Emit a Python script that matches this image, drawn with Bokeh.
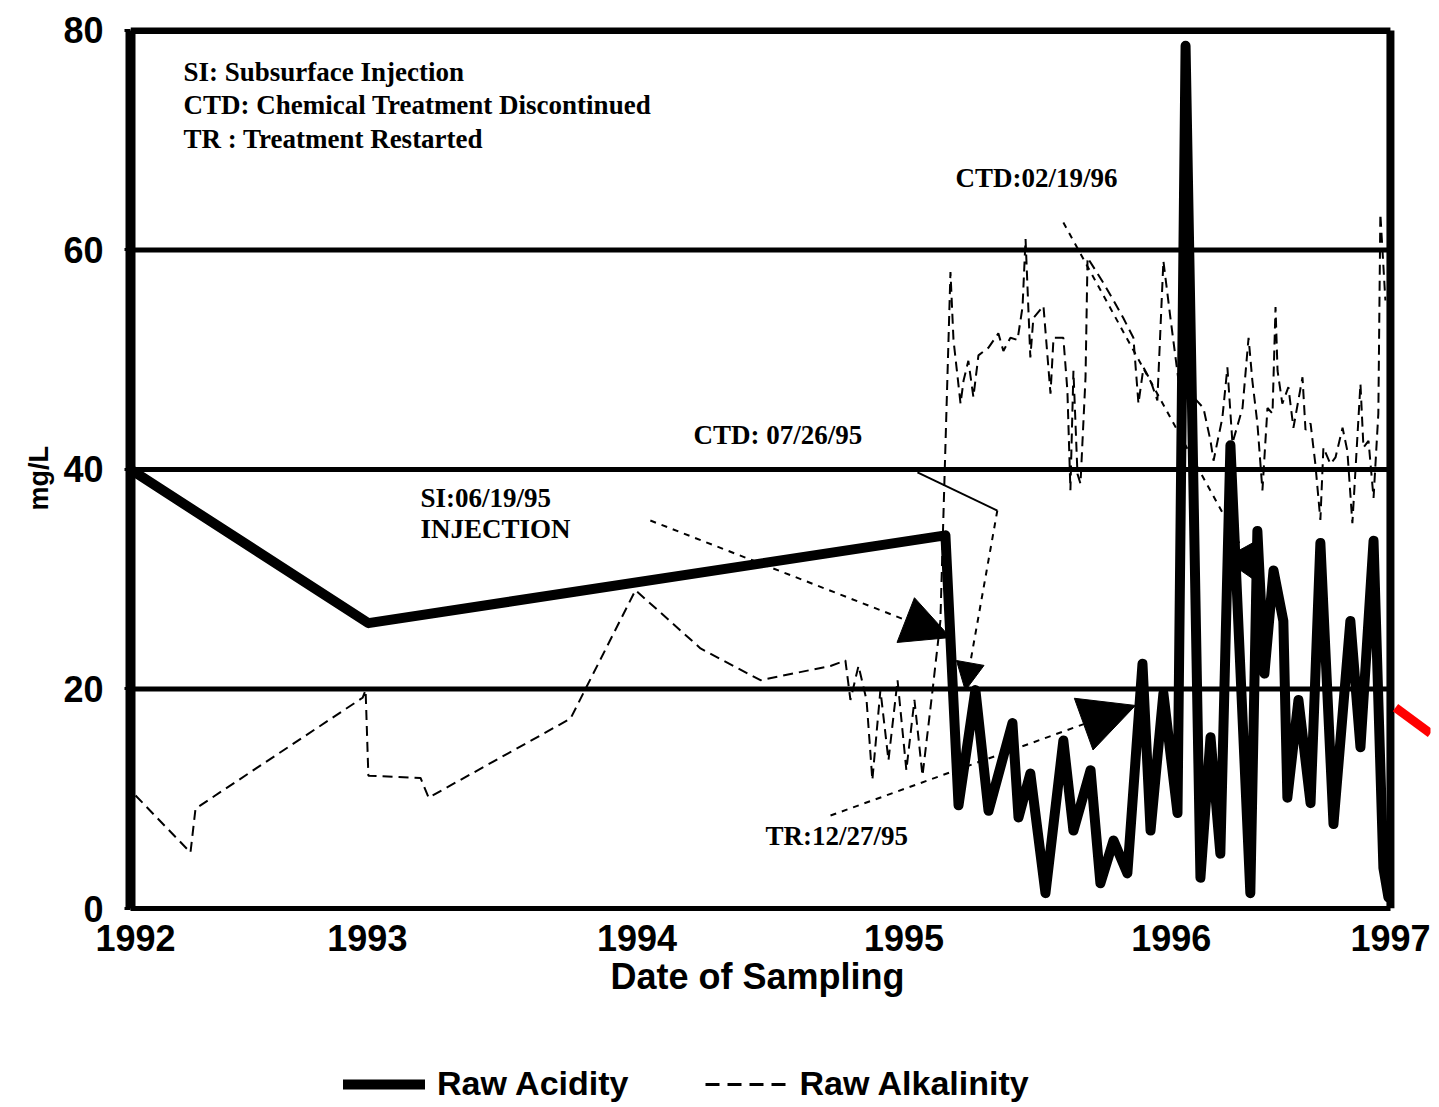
from bokeh.plotting import figure
from bokeh.layouts import column
from bokeh.models import (Range1d, FixedTicker, Arrow, NormalHead, Legend, LegendItem,
                          ColumnDataSource, Title)
from bokeh.core.properties import value
from bokeh.embed import file_html
from bokeh.resources import INLINE

# ---------------- data ----------------
acid_x = [1992.000, 1992.944, 1995.234, 1995.286, 1995.353, 1995.405, 1995.500, 1995.524,
          1995.571, 1995.631, 1995.702, 1995.742, 1995.810, 1995.849, 1995.901, 1995.956,
          1996.016, 1996.048, 1996.099, 1996.155, 1996.187, 1996.246, 1996.286, 1996.325,
          1996.365, 1996.444, 1996.472, 1996.500, 1996.536, 1996.575, 1996.591, 1996.635,
          1996.683, 1996.722, 1996.774, 1996.841, 1996.881, 1996.933, 1996.972, 1996.992]
acid_y = [40.0, 26.0, 34.0, 9.4, 19.9, 8.9, 16.9, 8.3,
          12.3, 1.4, 15.3, 7.1, 12.6, 2.3, 6.2, 3.2,
          22.3, 7.1, 19.6, 8.7, 78.6, 2.8, 15.6, 5.0,
          42.2, 1.4, 34.4, 21.4, 30.8, 26.2, 10.1, 19.0,
          9.6, 33.3, 7.7, 26.2, 14.7, 33.5, 3.7, 1.0]

alk_x = [1992.020, 1992.238, 1992.258, 1992.921, 1992.933, 1992.944, 1993.151, 1993.183,
         1993.746, 1994.004, 1994.262, 1994.500, 1994.778, 1994.837, 1994.857, 1994.889,
         1994.921, 1994.944, 1994.976, 1995.008, 1995.044, 1995.079, 1995.111, 1995.143,
         1995.183, 1995.214, 1995.254, 1995.266, 1995.294, 1995.306, 1995.325, 1995.345,
         1995.365, 1995.405, 1995.444, 1995.464, 1995.492, 1995.520, 1995.540, 1995.552,
         1995.571, 1995.583, 1995.623, 1995.651, 1995.663, 1995.702, 1995.718, 1995.730,
         1995.742, 1995.758, 1995.770, 1995.790, 1995.798, 1995.861, 1995.901, 1995.940,
         1995.980, 1996.000, 1996.020, 1996.048, 1996.075, 1996.099, 1996.127, 1996.159,
         1996.258, 1996.286, 1996.298, 1996.333, 1996.353, 1996.373, 1996.413, 1996.437,
         1996.452, 1996.472, 1996.492, 1996.512, 1996.532, 1996.544, 1996.552, 1996.571,
         1996.595, 1996.615, 1996.651, 1996.663, 1996.683, 1996.702, 1996.722, 1996.734,
         1996.762, 1996.782, 1996.810, 1996.829, 1996.849, 1996.881, 1996.893, 1996.913,
         1996.933, 1996.952, 1996.960, 1996.980]
alk_y = [10.3, 5.1, 9.1, 19.2, 19.9, 12.1, 11.9, 10.1,
         17.3, 29.0, 23.7, 20.8, 22.1, 22.6, 19.0, 22.1,
         19.0, 11.7, 19.9, 13.5, 20.8, 12.6, 19.0, 12.1,
         19.9, 26.2, 58.0, 51.8, 46.0, 48.1, 49.9, 46.6,
         50.4, 51.1, 52.4, 50.8, 52.0, 51.8, 54.8, 61.0,
         50.2, 53.8, 54.9, 46.9, 52.0, 52.0, 47.2, 38.1,
         49.0, 39.6, 38.7, 48.4, 59.3, 57.0, 55.4, 53.8,
         52.0, 46.0, 49.3, 48.1, 46.3, 59.0, 53.8, 48.1,
         45.6, 42.6, 40.8, 44.7, 49.3, 42.4, 45.6, 52.0,
         48.1, 44.2, 38.1, 45.6, 45.1, 54.8, 49.0, 46.0,
         47.5, 43.8, 48.4, 43.6, 44.2, 40.5, 35.4, 42.0,
         40.5, 41.1, 43.8, 41.7, 35.1, 47.8, 42.0, 42.6,
         37.4, 45.1, 63.3, 55.4]

y_ticks = [0, 20, 40, 60, 80]
x_start, x_end = 1992, 1997
year_labels = ["1992", "1993", "1994", "1995", "1996", "1997"]
year_label_pos = [1992.02, 1992.94, 1994.01, 1995.07, 1996.13, 1997.0]
x_title = "Date of Sampling"
y_title = "mg/L"
series_names = ["Raw Acidity", "Raw Alkalinity"]

notes_text = ["SI: Subsurface Injection",
              "CTD: Chemical Treatment Discontinued",
              "TR  : Treatment Restarted",
              "CTD:02/19/96", "CTD: 07/26/95", "SI:06/19/95", "INJECTION", "TR:12/27/95"]
notes_x = [1992.21, 1992.21, 1992.21, 1995.274, 1994.234, 1993.151, 1993.151, 1994.520]
notes_y = [76.2, 73.2, 70.1, 66.6, 43.1, 37.4, 34.6, 6.6]

si_arrow = (1994.063, 35.35, 1995.254, 24.69)
ctd1_link = (1995.123, 39.73, 1995.440, 36.26)
ctd1_arrow = (1995.440, 36.26, 1995.313, 19.86)
tr_arrow = (1994.778, 8.47, 1995.988, 18.50)
ctd2_arrow = (1995.702, 62.51, 1996.492, 29.43)
red_mark = (1997.020, 18.31, 1997.159, 15.95)

# ---------------- main figure ----------------
SANS = "Liberation Sans"
SERIF = "Liberation Serif"

p = figure(frame_width=1300, frame_height=881,
           min_border_left=130, min_border_right=1, min_border_top=27, min_border_bottom=105,
           x_range=Range1d(1992, 1997.159), y_range=Range1d(0, 80.27),
           output_backend="svg", toolbar_location=None, background_fill_color="white",
           border_fill_color="white")

p.outline_line_color = None
p.xgrid.visible = False
p.ygrid.visible = False

# grid lines and frame borders (restricted to 1992..1997, 0..80)
grid_vals = y_ticks[1:-1]
p.segment(x0=[x_start] * len(grid_vals), x1=[x_end] * len(grid_vals),
          y0=grid_vals, y1=grid_vals, line_color="black", line_width=5)
p.segment(x0=[x_start], x1=[x_end], y0=[y_ticks[-1]], y1=[y_ticks[-1]],
          line_color="black", line_width=7)
p.segment(x0=[x_end], x1=[x_end], y0=[y_ticks[0]], y1=[y_ticks[-1]],
          line_color="black", line_width=8)

# y axis
p.yaxis.ticker = FixedTicker(ticks=y_ticks)
p.yaxis.bounds = (y_ticks[0], y_ticks[-1])
p.yaxis.axis_line_width = 10
p.yaxis.major_tick_line_width = 3
p.yaxis.major_tick_out = 6
p.yaxis.major_tick_in = 0
p.yaxis.minor_tick_line_color = None
p.yaxis.major_label_standoff = 21
p.yaxis.major_label_text_font = SANS
p.yaxis.major_label_text_font_style = "bold"
p.yaxis.major_label_text_font_size = "36px"
p.yaxis.major_label_text_color = "black"

# x axis
p.xaxis.ticker = FixedTicker(ticks=year_label_pos)
p.xaxis.bounds = (x_start, x_end)
p.xaxis.major_label_overrides = {pos: lab for pos, lab in zip(year_label_pos, year_labels)}
p.xaxis.axis_line_width = 5
p.xaxis.major_tick_line_color = None
p.xaxis.minor_tick_line_color = None
p.xaxis.major_label_standoff = 10
p.xaxis.major_label_text_font = SANS
p.xaxis.major_label_text_font_style = "bold"
p.xaxis.major_label_text_font_size = "36px"
p.xaxis.major_label_text_color = "black"

# axis titles as side titles (left-aligned with an offset, like the original)
p.add_layout(Title(text=x_title, align="left", offset=480, standoff=0,
                   text_font=SANS, text_font_style="bold", text_font_size="36px",
                   text_color="black"), "below")
p.add_layout(Title(text=y_title, align="left", offset=398, standoff=14,
                   text_font=SANS, text_font_style="bold", text_font_size="27px",
                   text_color="black"), "left")

# series
alk_style = dict(line_color="black", line_width=2, line_dash="10 6")
acid_style = dict(line_color="black", line_width=10, line_join="round", line_cap="round")
p.line(alk_x, alk_y, **alk_style)
p.line(acid_x, acid_y, **acid_style)

# annotation texts
src = ColumnDataSource(dict(x=notes_x, y=notes_y, t=notes_text))
p.text(x="x", y="y", text="t", source=src, text_font=value(SERIF), text_font_style="bold",
       text_font_size="27px", text_color="black", text_baseline="middle", text_align="left")

# arrows
def add_arrow(coords, size, dashed=True, width=2, color="black"):
    x0, y0, x1, y1 = coords
    head = NormalHead(size=size, fill_color=color, line_color=color) if size else None
    p.add_layout(Arrow(end=head, x_start=x0, y_start=y0, x_end=x1, y_end=y1,
                       line_color=color, line_width=width,
                       line_dash="dashed" if dashed else "solid"))

add_arrow(si_arrow, 48)
add_arrow(ctd1_link, 0, dashed=False)
add_arrow(ctd1_arrow, 28)
add_arrow(tr_arrow, 55)
add_arrow(ctd2_arrow, 42)
add_arrow(red_mark, 0, dashed=False, width=9, color="red")

# ---------------- strip below: legend ----------------
q = figure(frame_width=1300, height=90, x_range=p.x_range, y_range=Range1d(0, 1),
           min_border_left=130, min_border_right=1, min_border_top=0, min_border_bottom=0,
           x_axis_location=None, y_axis_location=None,
           output_backend="svg", toolbar_location=None, background_fill_color="white",
           border_fill_color="white")
q.outline_line_color = None
q.xgrid.visible = False
q.ygrid.visible = False

# key renderers (their points lie outside the strip's visible range)
acid_key = q.line([x_start, x_end], [-1, -1], **acid_style)
alk_key = q.line([x_start, x_end], [-1, -1], line_color="black", line_width=3,
                 line_dash="14 8")
legend = Legend(items=[LegendItem(label=series_names[0], renderers=[acid_key]),
                       LegendItem(label=series_names[1], renderers=[alk_key])],
                orientation="horizontal", location=(213, 0),
                padding=0, margin=0, spacing=77, label_standoff=12,
                glyph_width=82, glyph_height=24, label_height=24,
                label_text_font=SANS, label_text_font_style="bold",
                label_text_font_size="34px", label_text_color="black",
                border_line_color=None, background_fill_alpha=0)
q.add_layout(legend, "center")

open("out.html", "w").write(file_html(column(p, q, spacing=0), INLINE))
